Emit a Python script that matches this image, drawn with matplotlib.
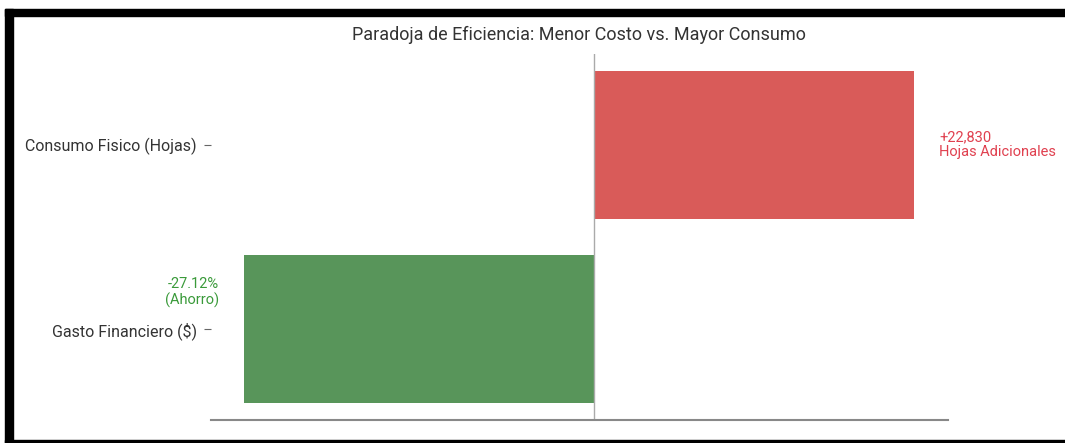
import matplotlib
matplotlib.use('Agg')
import matplotlib.pyplot as plt
from matplotlib.patches import Rectangle

# Efficiency paradox: lower spend, higher paper usage
categories = ['Gasto Financiero ($)', 'Consumo Fisico (Hojas)']
change_pct = [-27.12, 24.9]
extra_sheets = 22830
bar_colors = ['#58955a', '#d95b59']

plt.rcParams['font.family'] = ['Roboto', 'DejaVu Sans']

fig = plt.figure(figsize=(10.65, 4.43), dpi=100)
ax = fig.add_axes([0.198, 0.052, 0.692, 0.826])

ax.barh(categories, change_pct, height=0.8, color=bar_colors)
ax.axvline(0, color='#aaaaaa', linewidth=1)

ax.set_title('Paradoja de Eficiencia: Menor Costo vs. Mayor Consumo',
             fontsize=13, color='#333333', pad=10)

for side in ['top', 'right', 'left']:
    ax.spines[side].set_visible(False)
ax.spines['bottom'].set_color('#888888')
ax.spines['bottom'].set_linewidth(1.5)
ax.set_xticks([])
ax.tick_params(axis='y', length=5, color='#666666', labelsize=11.5,
               labelcolor='#333333', pad=5)

# value labels beside each bar
ax.annotate(f'+{extra_sheets:,}\nHojas Adicionales', xy=(change_pct[1], 1),
            xytext=(18, 0), textcoords='offset points', ha='left', va='center',
            color='#e0404f', fontsize=10.5, linespacing=1.1)
ax.annotate(f'{change_pct[0]:.2f}%\n(Ahorro)', xy=(change_pct[0], 0.2),
            xytext=(-18, 0), textcoords='offset points', ha='right', va='center',
            color='#3a9a3a', fontsize=10.5, linespacing=1.1)

# black screenshot frame
fig.patches.append(Rectangle((5 / 1065, 0), 8 / 1065, 1 - 9 / 443, transform=fig.transFigure,
                             color='black', zorder=10))
fig.patches.append(Rectangle((5 / 1065, 1 - 16 / 443), 1, 7 / 443, transform=fig.transFigure,
                             color='black', zorder=10))
fig.patches.append(Rectangle((5 / 1065, 0), 1, 3 / 443, transform=fig.transFigure,
                             color='black', zorder=10))

fig.savefig('out.png', dpi=100)
